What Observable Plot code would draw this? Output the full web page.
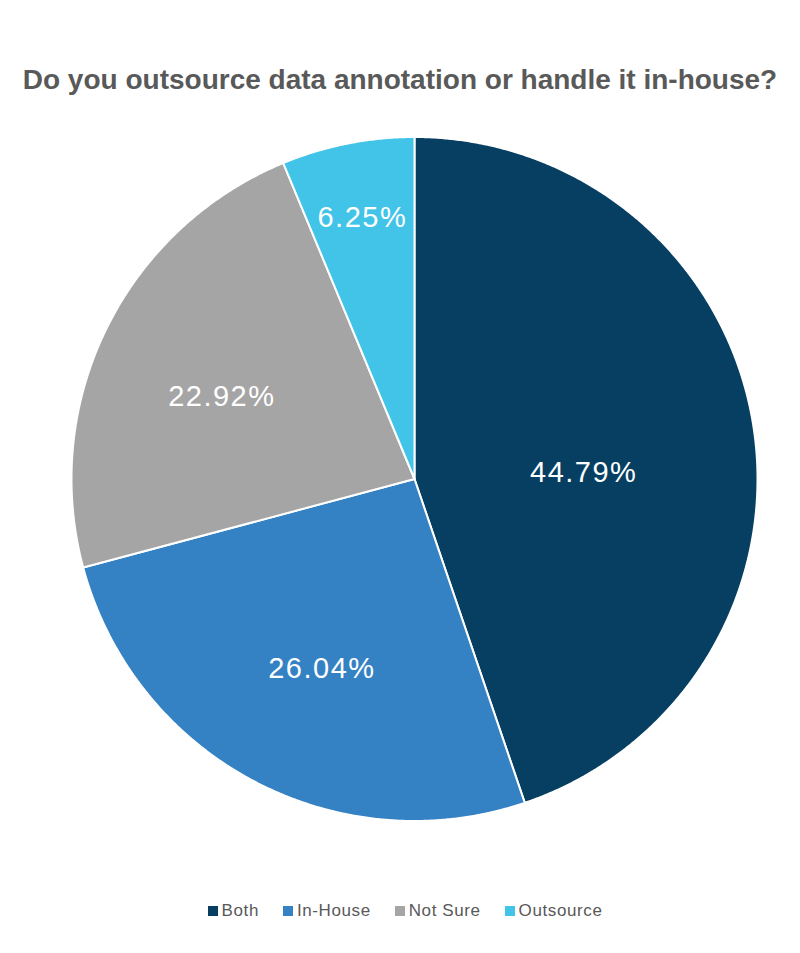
<!DOCTYPE html>
<html><head><meta charset="utf-8">
<script src="https://cdn.jsdelivr.net/npm/d3@7"></script>
<script src="https://cdn.jsdelivr.net/npm/@observablehq/plot@0.6"></script>
<style>
body{margin:0;background:#fff;width:800px;height:953px;overflow:hidden;font-family:"Liberation Sans",Arial,sans-serif;}
#title{height:120px;box-sizing:border-box;padding-top:64px;text-align:center;font-size:28px;font-weight:bold;color:#595959;line-height:32px;white-space:nowrap;}
#chart svg{display:block;}
#legend{display:flex;justify-content:center;align-items:center;padding-top:32px;padding-left:10px;font-size:17px;letter-spacing:0.6px;color:#595959;line-height:18px;}
.item{display:flex;align-items:center;margin:0 12px;}
.sw{width:10px;height:10px;margin-right:4px;}
</style></head><body>
<div id="title">Do you outsource data annotation or handle it in-house?</div>
<div id="chart"></div>
<div id="legend"></div>
<script>
const categories = ["Both", "In-House", "Not Sure", "Outsource"];
const shares = [44.79, 26.04, 22.92, 6.25];
const labels = ["44.79%", "26.04%", "22.92%", "6.25%"];

// styling
const colors = ["#063f62", "#3481c3", "#a5a5a5", "#41c4e7"];
const labelRadius = [0.5, 0.61, 0.61, 0.78];
const labelNudgeX = [0, 6, -5, 0];
const labelNudgeY = [22, 6, 10, 0];

const rows = categories.map((c, i) => ({cat: c, share: shares[i], label: labels[i]}));
const arcs = d3.pie().sort(null).value(d => d.share)(rows);

const pts = [];
arcs.forEach(a => {
  pts.push({cat: a.data.cat, x: 0, y: 0});
  const n = Math.max(8, Math.ceil((a.endAngle - a.startAngle) / 0.005));
  for (let k = 0; k <= n; k++) {
    const t = a.startAngle + (a.endAngle - a.startAngle) * k / n;
    pts.push({cat: a.data.cat, x: Math.sin(t), y: Math.cos(t)});
  }
});
const labs = arcs.map((a, i) => {
  const m = (a.startAngle + a.endAngle) / 2;
  return {label: a.data.label, x: Math.sin(m) * labelRadius[i], y: Math.cos(m) * labelRadius[i]};
});

const chart = Plot.plot({
  width: 800,
  height: 750,
  marginTop: 16.5,
  marginBottom: 49.5,
  marginLeft: 71,
  marginRight: 43,
  x: {domain: [-1, 1], axis: null},
  y: {domain: [-1, 1], axis: null},
  color: {domain: categories, range: colors},
  marks: [
    Plot.line(pts, {x: "x", y: "y", z: "cat", fill: "cat", stroke: "white", strokeWidth: 2, curve: "linear-closed", strokeLinejoin: "round"}),
    ...labs.map((l, i) => Plot.text([l], {x: "x", y: "y", text: "label", fill: "white", fontSize: 29, dx: labelNudgeX[i], dy: labelNudgeY[i], fontFamily: "Liberation Sans, Arial, sans-serif", style: {letterSpacing: "1.5px"}}))
  ]
});
document.getElementById("chart").appendChild(chart);
chart.querySelectorAll("text").forEach(t => t.style.letterSpacing = "1.5px");

const leg = document.getElementById("legend");
categories.forEach((c, i) => {
  const it = document.createElement("div");
  it.className = "item";
  const sw = document.createElement("div");
  sw.className = "sw";
  sw.style.background = colors[i];
  const tx = document.createElement("span");
  tx.textContent = c;
  it.appendChild(sw); it.appendChild(tx);
  leg.appendChild(it);
});
</script>
</body></html>
